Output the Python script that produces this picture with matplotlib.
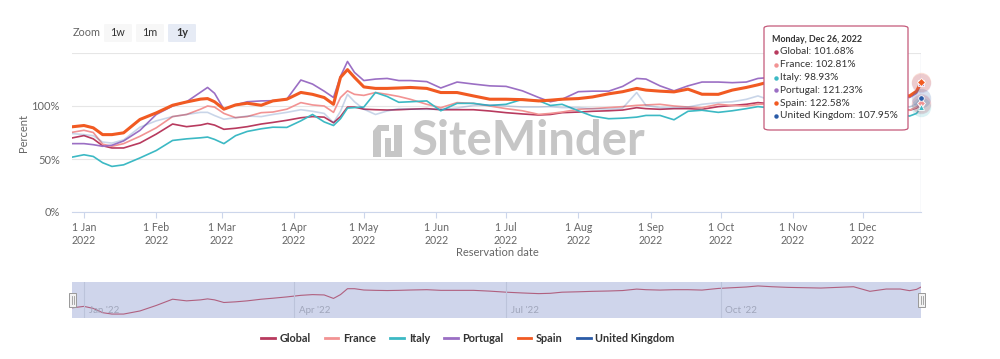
import pandas as pd
import matplotlib.pyplot as plt
import matplotlib.dates as mdates
from matplotlib.ticker import FuncFormatter
from matplotlib.patches import FancyBboxPatch, Rectangle, Polygon
from matplotlib.lines import Line2D

plt.rcParams['font.family'] = ['Lato', 'DejaVu Sans']

# days counted from 1 Jan 2022
DAYS = [-5, 0, 4, 8, 12, 17, 24, 31, 38, 44,
        50, 53, 56, 60, 65, 70, 76, 81, 87, 93,
        98, 103, 107, 110, 113, 116, 120, 125, 130, 135,
        140, 147, 153, 160, 167, 174, 181, 188, 195, 200,
        205, 212, 218, 225, 231, 237, 241, 247, 253, 259,
        265, 272, 278, 284, 289, 295, 302, 309, 316, 323,
        330, 337, 344, 350, 354, 357, 359]

GLOBAL = [69.9, 72.1, 69.0, 62.5, 60.4, 60.4, 65.1, 73.5, 83.0, 80.5,
          82.0, 83.5, 82.0, 78.0, 79.0, 80.5, 83.0, 84.5, 86.5, 88.9,
          90.0, 89.5, 84.2, 90.0, 99.0, 99.0, 97.0, 96.5, 96.2, 96.5,
          97.0, 97.5, 96.5, 96.5, 96.5, 95.3, 93.7, 92.5, 91.5, 92.0,
          93.7, 94.3, 95.0, 95.5, 96.2, 98.4, 97.5, 96.9, 97.5, 97.5,
          96.9, 99.4, 100.5, 101.6, 103.2, 102.0, 101.0, 100.5, 100.0, 101.0,
          102.0, 95.0, 98.5, 98.5, 96.0, 98.0, 101.68]
FRANCE = [75.2, 77.1, 75.0, 64.0, 62.0, 64.5, 71.4, 79.4, 90.0, 92.0,
          97.0, 100.0, 99.0, 93.0, 89.0, 90.0, 93.7, 94.3, 97.0, 103.2,
          101.0, 100.0, 94.0, 108.0, 114.3, 111.0, 110.0, 112.7, 111.0, 109.0,
          106.3, 101.6, 98.4, 103.2, 102.5, 100.0, 97.5, 95.5, 92.1, 93.0,
          94.3, 96.9, 97.5, 98.5, 99.4, 100.6, 101.0, 101.6, 100.0, 99.0,
          98.4, 101.6, 100.5, 100.0, 101.6, 102.0, 102.0, 101.0, 101.0, 100.0,
          100.0, 99.0, 98.0, 97.0, 96.0, 99.0, 102.81]
ITALY = [51.8, 54.0, 52.4, 46.5, 43.0, 44.5, 51.0, 58.0, 67.5, 69.0,
         70.0, 70.7, 68.5, 64.5, 72.0, 76.0, 78.5, 80.0, 79.8, 86.0,
         92.0, 85.0, 81.6, 88.0, 98.0, 98.5, 99.0, 112.7, 109.0, 103.5,
         104.0, 104.8, 95.5, 102.5, 102.5, 100.5, 101.6, 106.3, 105.0, 100.5,
         101.6, 95.5, 90.5, 88.0, 88.5, 89.5, 91.1, 91.1, 87.0, 95.0,
         96.0, 94.0, 95.5, 97.5, 99.4, 98.0, 97.0, 96.0, 95.0, 95.0,
         94.0, 93.0, 93.0, 92.0, 90.5, 93.0, 98.93]
PORTUGAL = [64.5, 64.5, 63.5, 62.0, 63.0, 67.0, 77.0, 92.0, 100.0, 104.0,
            113.0, 117.5, 112.0, 97.0, 101.0, 104.0, 104.8, 105.0, 106.5, 124.5,
            120.7, 114.0, 108.0, 128.0, 142.0, 131.7, 124.0, 125.4, 126.0, 124.0,
            124.0, 123.0, 117.0, 122.6, 120.7, 119.0, 118.5, 114.3, 108.0, 104.0,
            106.4, 113.5, 114.0, 114.0, 118.5, 126.0, 125.4, 119.0, 114.3, 119.0,
            122.6, 122.6, 122.0, 122.6, 126.0, 127.0, 126.0, 124.0, 124.0, 122.0,
            121.0, 120.0, 116.0, 110.0, 108.0, 112.0, 121.23]
SPAIN = [80.4, 81.6, 79.4, 73.0, 73.0, 74.7, 87.3, 93.5, 100.7, 103.8,
         106.5, 107.0, 104.0, 97.0, 101.0, 102.6, 100.7, 104.8, 106.4, 112.8,
         111.0, 108.0, 101.6, 127.0, 134.3, 127.0, 118.0, 116.6, 116.6, 117.0,
         117.5, 116.6, 112.7, 112.7, 109.5, 106.4, 106.4, 106.0, 104.8, 105.5,
         106.4, 107.0, 108.5, 111.5, 113.5, 116.6, 115.0, 114.0, 113.3, 115.9,
         111.1, 111.0, 115.0, 117.5, 120.0, 123.5, 122.0, 121.0, 120.0, 119.0,
         118.0, 116.0, 113.0, 110.0, 109.5, 114.0, 122.58]
UK = [74.0, 73.0, 72.0, 66.0, 65.0, 68.0, 80.0, 86.0, 90.0, 92.0,
      94.0, 94.0, 91.0, 87.5, 89.0, 90.5, 90.0, 92.0, 94.0, 96.5,
      95.0, 93.0, 84.2, 95.0, 111.0, 104.0, 97.0, 92.0, 95.3, 97.5,
      97.0, 96.9, 96.9, 98.0, 100.6, 101.0, 100.0, 99.0, 99.0, 99.4,
      98.5, 98.5, 97.5, 97.0, 98.0, 112.7, 100.5, 98.5, 98.5, 99.0,
      101.6, 103.2, 104.0, 106.3, 109.5, 105.0, 104.0, 104.0, 103.0, 103.0,
      102.0, 101.0, 101.0, 100.0, 99.0, 102.0, 107.95]

NAMES = ['Global', 'France', 'Italy', 'Portugal', 'Spain', 'United Kingdom']
SERIES = [GLOBAL, FRANCE, ITALY, PORTUGAL, SPAIN, UK]
COLORS = ['#b83a5e', '#f29393', '#3cb9c4', '#9b6fc4', '#f15a22', '#2a5ba7']
MARKERS = ['o', 'D', '^', 's', 'D', 'o']

W, H = 1000, 359


def fx(x):
    return x / W


def fy(y):
    return 1 - y / H


dates = pd.Timestamp('2022-01-01') + pd.to_timedelta(DAYS, unit='D')

fig = plt.figure(figsize=(10, 3.59), dpi=100)

# ---- main chart
ax = fig.add_axes([fx(72.3), fy(212), fx(921.2 - 72.3), (212 - 53) / H])
for name, vals, col in zip(NAMES, SERIES, COLORS):
    lw = 2.2 if name == 'Spain' else 1.2
    alpha = 0.25 if name == 'United Kingdom' else 1.0
    z = 4 if name == 'Spain' else 3
    ax.plot(dates, vals, color=col, lw=lw, alpha=alpha, zorder=z)

# hover markers on the last point
for name, vals, col, mk in zip(NAMES, SERIES, COLORS, MARKERS):
    ax.plot(dates[-1], vals[-1], 'o', ms=14, color=col, alpha=0.18,
            mec='none', zorder=5, clip_on=False)
    ax.plot(dates[-1], vals[-1], mk, ms=4, color=col, mec='white', mew=0.6,
            zorder=6, clip_on=False)

ax.set_xlim(dates[0], dates[-1])
ax.set_ylim(0, 150)
ax.set_yticks([0, 50, 100, 150])
ax.set_yticklabels(['0%', '50%', '100%', ''])
ax.grid(axis='y', color='#e6e6e6', lw=0.8)
ax.set_axisbelow(True)
for s in ['top', 'right', 'left']:
    ax.spines[s].set_visible(False)
ax.spines['bottom'].set_color('#ccd6eb')
ax.spines['bottom'].set_linewidth(0.8)
ax.tick_params(axis='y', length=0, pad=9, labelsize=8, labelcolor='#666666')
ax.tick_params(axis='x', length=4.5, width=0.8, color='#ccd6eb', pad=2.5,
               labelsize=7.6, labelcolor='#666666')
ax.xaxis.set_major_locator(mdates.MonthLocator())
ax.xaxis.set_major_formatter(FuncFormatter(
    lambda v, p: '{0} {1:%b}\n{1:%Y}'.format(mdates.num2date(v).day, mdates.num2date(v))))
for t in ax.get_xticklabels():
    t.set_linespacing(1.25)

# crosshair at hovered date
ax.axvline(dates[-1], color='#dfe3ef', lw=1, zorder=1)

fig.text(fx(24), fy(133), 'Percent', rotation=90, ha='center', va='center',
         fontsize=8, color='#666666')
fig.text(fx(497), fy(253), 'Reservation date', ha='center', va='center',
         fontsize=8, color='#666666')

# watermark
fig.text(fx(412), fy(141), 'SiteMinder', ha='left', va='center', fontsize=34,
         fontweight='bold', color='#c6c6c6', zorder=1)
logo_a = [(373, 131), (378, 125), (389, 125), (389, 131), (381, 131), (381, 157), (373, 157)]
logo_b = [(394, 125), (402, 125), (402, 157), (385, 157), (385, 138), (391, 138), (391, 151), (394, 151)]
for pts in (logo_a, logo_b):
    fig.add_artist(Polygon([(fx(a), fy(b)) for a, b in pts], closed=True,
                           transform=fig.transFigure, fc='#c6c6c6', ec='none', zorder=1))

# ---- zoom buttons
fig.text(fx(73), fy(33), 'Zoom', ha='left', va='center', fontsize=7.8, color='#666666')
for label, x0, fc, fw in [('1w', 104, '#f7f7f7', 'normal'),
                          ('1m', 136, '#f7f7f7', 'normal'),
                          ('1y', 168, '#e6ebf5', 'bold')]:
    fig.add_artist(FancyBboxPatch((fx(x0), fy(42)), fx(28), 18 / H,
                                  boxstyle='round,pad=0,rounding_size=0.002',
                                  transform=fig.transFigure, fc=fc, ec='none'))
    fig.text(fx(x0 + 14), fy(33), label, ha='center', va='center', fontsize=7.8,
             color='#333333', fontweight=fw)

# ---- tooltip
fig.add_artist(FancyBboxPatch((fx(764), fy(130)), fx(908 - 764), (130 - 26) / H,
                              boxstyle='round,pad=0,rounding_size=0.006',
                              transform=fig.transFigure, fc='white', ec='#c45a7a',
                              lw=0.9, zorder=10))
fig.text(fx(772), fy(39), 'Monday, Dec 26, 2022', ha='left', va='center',
         fontsize=6.4, fontweight='bold', color='#333333', zorder=11)
for i, (name, vals, col) in enumerate(zip(NAMES, SERIES, COLORS)):
    yy = 52 + i * 12.8
    fig.add_artist(Line2D([fx(775.5)], [fy(yy)], marker='o', ms=3.2, color=col,
                          mec='none', transform=fig.transFigure, zorder=11))
    fig.text(fx(780.5), fy(yy), '{}: {:.2f}%'.format(name, vals[-1]), ha='left',
             va='center', fontsize=7.3, color='#333333', zorder=11)

# ---- navigator
nav = fig.add_axes([fx(72.3), fy(318), fx(921.2 - 72.3), 36 / H])
nav.set_facecolor('#cfd5eb')
nav.plot(dates, GLOBAL, color='#b0607f', lw=0.8)
nav.set_xlim(dates[0], dates[-1])
nav.set_ylim(min(GLOBAL) - 6, max(GLOBAL) + 6)
nav.set_xticks([])
nav.set_yticks([])
for s in nav.spines.values():
    s.set_visible(False)
for m, lab in [('2022-01-01', "Jan '22"), ('2022-04-01', "Apr '22"),
               ('2022-07-01', "Jul '22"), ('2022-10-01', "Oct '22")]:
    d = pd.Timestamp(m)
    nav.axvline(d, color='#bcc3da', lw=0.8)
    nav.text(d + pd.Timedelta(days=2), 0.22, lab, transform=nav.get_xaxis_transform(),
             ha='left', va='center', fontsize=7, color='#a0a6bb')
for hx in (69, 918):
    fig.add_artist(Rectangle((fx(hx), fy(307)), fx(7), 14 / H, transform=fig.transFigure,
                             fc='#f2f2f2', ec='#999999', lw=0.7, zorder=5))
    for dx in (2.5, 4.5):
        fig.add_artist(Line2D([fx(hx + dx)] * 2, [fy(296), fy(304)], color='#999999',
                              lw=0.6, transform=fig.transFigure, zorder=6))

# ---- legend
handles = [Line2D([0], [0], color=c, lw=2) for c in COLORS]
fig.legend(handles, NAMES, ncol=6, loc='center', bbox_to_anchor=(0.468, fy(338)),
           frameon=False, handlelength=1.25, handletextpad=0.45, columnspacing=1.3,
           prop=dict(family=['Lato', 'DejaVu Sans'], weight='bold', size=7.8),
           labelcolor='#333333')

fig.savefig('out.png', dpi=100)
